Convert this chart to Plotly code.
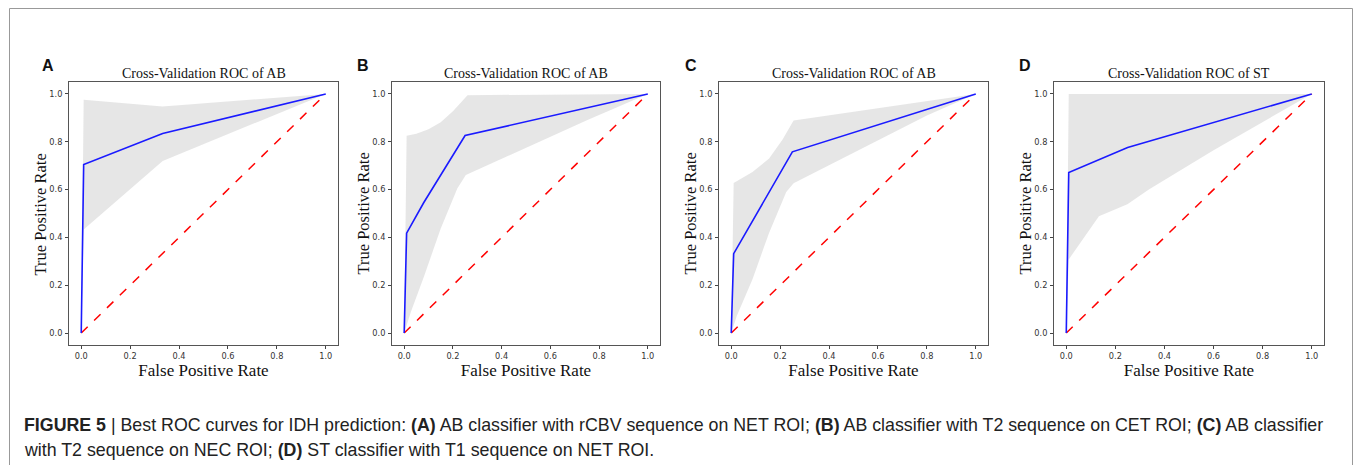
import plotly.graph_objects as go

W, H = 1355, 465

panel_letters = ["A", "B", "C", "D"]
titles = ["Cross-Validation ROC of AB", "Cross-Validation ROC of AB",
          "Cross-Validation ROC of AB", "Cross-Validation ROC of ST"]

# mean ROC curves
mean_fpr_A = [0.0, 0.01, 0.333, 1.0]
mean_tpr_A = [0.0, 0.705, 0.835, 1.0]
mean_fpr_B = [0.0, 0.01, 0.08, 0.25, 1.0]
mean_tpr_B = [0.0, 0.418, 0.545, 0.826, 1.0]
mean_fpr_C = [0.0, 0.01, 0.25, 1.0]
mean_tpr_C = [0.0, 0.332, 0.758, 1.0]
mean_fpr_D = [0.0, 0.01, 0.25, 1.0]
mean_tpr_D = [0.0, 0.671, 0.776, 1.0]

# +/- 1 std band, upper edge
upper_fpr_A = [0.0, 0.01, 0.333, 1.0]
upper_tpr_A = [0.0, 0.976, 0.948, 1.0]
upper_fpr_B = [0.0, 0.01, 0.05, 0.10, 0.15, 0.20, 0.26, 1.0]
upper_tpr_B = [0.0, 0.825, 0.834, 0.852, 0.882, 0.928, 0.995, 1.0]
upper_fpr_C = [0.0, 0.01, 0.087, 0.155, 0.21, 0.255, 1.0]
upper_tpr_C = [0.0, 0.628, 0.674, 0.73, 0.81, 0.889, 1.0]
upper_fpr_D = [0.0, 0.01, 1.0]
upper_tpr_D = [0.0, 1.0, 1.0]

# lower edge
lower_fpr_A = [0.0, 0.01, 0.333, 1.0]
lower_tpr_A = [0.0, 0.433, 0.72, 1.0]
lower_fpr_B = [0.0, 0.027, 0.082, 0.15, 0.218, 0.253, 0.75, 1.0]
lower_tpr_B = [0.0, 0.087, 0.239, 0.437, 0.605, 0.661, 0.89, 1.0]
lower_fpr_C = [0.0, 0.023, 0.087, 0.155, 0.225, 0.255, 0.8, 1.0]
lower_tpr_C = [0.0, 0.072, 0.225, 0.42, 0.59, 0.627, 0.91, 1.0]
lower_fpr_D = [0.0, 0.01, 0.133, 0.249, 0.338, 0.6, 1.0]
lower_tpr_D = [0.0, 0.308, 0.489, 0.539, 0.601, 0.765, 1.0]

chance = [0.0, 1.0]
tick_vals = [0.0, 0.2, 0.4, 0.6, 0.8, 1.0]
tick_text = ["0.0", "0.2", "0.4", "0.6", "0.8", "1.0"]

caption_1 = ("<b>FIGURE 5</b> | Best ROC curves for IDH prediction: <b>(A)</b> AB classifier with rCBV "
             "sequence on NET ROI; <b>(B)</b> AB classifier with T2 sequence on CET ROI; <b>(C)</b> AB classifier")
caption_2 = "with T2 sequence on NEC ROI; <b>(D)</b> ST classifier with T1 sequence on NET ROI."

means = [(mean_fpr_A, mean_tpr_A), (mean_fpr_B, mean_tpr_B), (mean_fpr_C, mean_tpr_C), (mean_fpr_D, mean_tpr_D)]
uppers = [(upper_fpr_A, upper_tpr_A), (upper_fpr_B, upper_tpr_B), (upper_fpr_C, upper_tpr_C), (upper_fpr_D, upper_tpr_D)]
lowers = [(lower_fpr_A, lower_tpr_A), (lower_fpr_B, lower_tpr_B), (lower_fpr_C, lower_tpr_C), (lower_fpr_D, lower_tpr_D)]

# plot-area pixel boxes (left, right)
x_boxes = [(69, 338), (392, 660), (719, 988), (1054, 1324)]
y_top, y_bot = 82, 345
letter_x = [40, 355, 683, 1017]

fig = go.Figure()
layout = dict(
    width=W, height=H, margin=dict(l=0, r=0, t=0, b=0),
    paper_bgcolor="white", plot_bgcolor="white", showlegend=False,
)
annotations = []
shapes = []

serif = "Liberation Serif, Times New Roman, serif"
sans = "Liberation Sans, Arial, sans-serif"

for i in range(4):
    xa = "x" if i == 0 else f"x{i+1}"
    ya = "y" if i == 0 else f"y{i+1}"
    xkey = "xaxis" if i == 0 else f"xaxis{i+1}"
    ykey = "yaxis" if i == 0 else f"yaxis{i+1}"
    l, r = x_boxes[i]
    axis_common = dict(
        range=[-0.05, 1.05], tickvals=tick_vals, ticktext=tick_text,
        ticks="outside", ticklen=3, tickwidth=1, tickcolor="#444",
        showline=True, mirror=True, linecolor="#555", linewidth=1,
        showgrid=False, zeroline=False,
        tickfont=dict(family="DejaVu Sans", size=8.2, color="#333"),
    )
    layout[xkey] = dict(axis_common, domain=[l / W, r / W], anchor=ya,
                        title=dict(text="False Positive Rate", font=dict(family=serif, size=17, color="#111"), standoff=4))
    layout[ykey] = dict(axis_common, domain=[1 - y_bot / H, 1 - y_top / H], anchor=xa, ticklabelstandoff=1)

    uf, ut = uppers[i]
    lf, lt = lowers[i]
    fig.add_trace(go.Scatter(x=uf + lf[::-1], y=ut + lt[::-1], fill="toself",
                             fillcolor="rgba(128,128,128,0.2)", line=dict(width=0),
                             mode="lines", hoverinfo="skip", xaxis=xa, yaxis=ya))
    fig.add_trace(go.Scatter(x=chance, y=chance, mode="lines",
                             line=dict(color="#ff0000", width=1.5, dash="dash"),
                             xaxis=xa, yaxis=ya))
    mf, mt = means[i]
    fig.add_trace(go.Scatter(x=mf, y=mt, mode="lines",
                             line=dict(color="#1a1aff", width=1.6),
                             xaxis=xa, yaxis=ya))

    annotations.append(dict(text="True Positive Rate", x=(l - 18) / W, y=1 - 214 / H, xref="paper", yref="paper",
                            showarrow=False, xanchor="right", yanchor="middle", textangle=-90,
                            font=dict(family=serif, size=16.5, color="#111")))
    annotations.append(dict(text=titles[i], x=(l + r) / 2 / W, y=1 - 73 / H, xref="paper", yref="paper",
                            showarrow=False, xanchor="center", yanchor="middle",
                            font=dict(family=serif, size=14, color="#111")))
    annotations.append(dict(text=f"<b>{panel_letters[i]}</b>", x=letter_x[i] / W, y=1 - 65 / H,
                            xref="paper", yref="paper", showarrow=False, xanchor="left", yanchor="middle",
                            font=dict(family=sans, size=16, color="#111")))

annotations.append(dict(text=caption_1, x=22 / W, y=1 - 425 / H, xref="paper", yref="paper",
                        showarrow=False, xanchor="left", yanchor="middle",
                        font=dict(family=sans, size=17.8, color="#222")))
annotations.append(dict(text=caption_2, x=22 / W, y=1 - 450 / H, xref="paper", yref="paper",
                        showarrow=False, xanchor="left", yanchor="middle",
                        font=dict(family=sans, size=17.8, color="#222")))

# outer frame (open at the bottom)
frame = dict(type="line", xref="paper", yref="paper", line=dict(color="#999", width=1))
shapes.append(dict(frame, x0=9.5 / W, x1=9.5 / W, y0=0, y1=1 - 8.5 / H))
shapes.append(dict(frame, x0=9.5 / W, x1=1352.5 / W, y0=1 - 8.5 / H, y1=1 - 8.5 / H))
shapes.append(dict(frame, x0=1352.5 / W, x1=1352.5 / W, y0=0, y1=1 - 8.5 / H))

layout["annotations"] = annotations
layout["shapes"] = shapes
fig.update_layout(**layout)
fig.write_html("out.html")
